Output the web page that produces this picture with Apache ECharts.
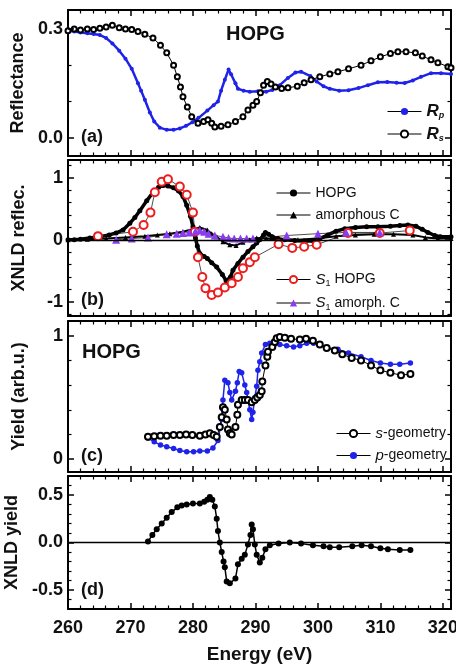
<!DOCTYPE html>
<html><head><meta charset="utf-8">
<script src="https://cdn.jsdelivr.net/npm/echarts@6/dist/echarts.min.js"></script>
<style>html,body{margin:0;padding:0;background:#fff}#c{width:456px;height:671px}</style>
</head><body><div id="c"></div>
<script>
// ---------- data ----------
const xMajor = [260, 270, 280, 290, 300, 310, 320];
const xMinor = [262,264,266,268,272,274,276,278,282,284,286,288,292,294,296,298,302,304,306,308,312,314,316,318];
const yLabelsA = [0.0, 0.3];
const yMinorA = [0.1, 0.2];
const yLabelsB = [-1, 0, 1];
const yMinorB = [-1.2,-0.8,-0.6,-0.4,-0.2,0.2,0.4,0.6,0.8,1.2];
const yLabelsC = [0, 1];
const yMinorC = [0.2, 0.4, 0.6, 0.8];
const yLabelsD = [-0.5, 0.0, 0.5];
const yMinorD = [-0.6,-0.4,-0.3,-0.2,-0.1,0.1,0.2,0.3,0.4,0.6];

const reflRp = [[260,0.295],[261,0.293],[262,0.29],[263.1,0.288],[264.1,0.286],[265.1,0.283],[266.1,0.275],[267.1,0.26],[268.2,0.24],[269.2,0.218],[270.2,0.19],[271.2,0.15],[271.7,0.13],[272.3,0.105],[273.1,0.07],[273.8,0.045],[274.7,0.028],[275.8,0.022],[276.9,0.022],[277.9,0.026],[278.9,0.033],[279.9,0.043],[280.9,0.055],[282.3,0.075],[283.3,0.09],[284.0,0.1],[284.5,0.13],[285.1,0.16],[285.7,0.188],[286.1,0.175],[286.8,0.15],[287.2,0.135],[288.1,0.13],[289.1,0.127],[290.4,0.128],[291.7,0.127],[292.7,0.132],[293.9,0.145],[295.2,0.165],[296.4,0.18],[297.3,0.182],[298.8,0.17],[299.8,0.155],[300.9,0.142],[301.9,0.135],[303.4,0.13],[304.9,0.131],[306.5,0.137],[308.0,0.145],[309.6,0.153],[311.1,0.154],[312.6,0.152],[313.9,0.151],[315.2,0.158],[316.5,0.168],[318.1,0.178],[319.7,0.178],[321.3,0.176]];
const reflRs = [[260,0.295],[261,0.3],[262,0.297],[263.1,0.3],[264.1,0.298],[265.1,0.302],[266.1,0.305],[267.1,0.31],[268.2,0.303],[269.2,0.3],[270.2,0.298],[271.2,0.293],[272.3,0.285],[273.6,0.275],[274.8,0.255],[275.8,0.234],[276.9,0.2],[277.5,0.168],[278.0,0.14],[278.4,0.113],[279.1,0.085],[279.8,0.058],[280.8,0.04],[281.7,0.045],[282.4,0.05],[283.0,0.04],[283.5,0.03],[284.5,0.032],[285.6,0.036],[286.8,0.045],[288.0,0.058],[288.8,0.077],[289.6,0.09],[290.2,0.1],[290.8,0.124],[291.3,0.145],[291.9,0.155],[292.5,0.148],[293.2,0.14],[294.2,0.136],[295.2,0.138],[296.7,0.142],[297.8,0.152],[298.9,0.16],[300.3,0.168],[301.9,0.176],[303.2,0.182],[304.9,0.19],[306.9,0.2],[308.5,0.212],[310.0,0.223],[311.6,0.232],[312.8,0.237],[314.1,0.237],[315.6,0.234],[316.7,0.225],[318.1,0.215],[319.2,0.207],[320.8,0.196],[321.3,0.193]];

const xnldHOPG = [[260,0],[261,0.0],[262,0.01],[263.5,0.03],[265.1,0.05],[266.6,0.08],[267.7,0.11],[268.8,0.16],[269.9,0.27],[270.7,0.36],[271.5,0.47],[272.6,0.63],[273.6,0.77],[274.5,0.85],[275.2,0.88],[276.0,0.87],[276.9,0.84],[277.7,0.79],[278.4,0.7],[279.0,0.56],[279.6,0.38],[280.0,0.21],[280.4,0.03],[280.7,-0.1],[281.1,-0.22],[281.8,-0.27],[282.3,-0.3],[283.0,-0.37],[283.8,-0.44],[284.7,-0.56],[285.3,-0.66],[285.6,-0.68],[286.0,-0.6],[286.4,-0.49],[287.2,-0.38],[288.0,-0.28],[288.8,-0.19],[289.6,-0.11],[290.2,-0.05],[290.7,0.0],[291.3,0.08],[291.6,0.12],[292.1,0.09],[292.7,0.05],[293.6,0.02],[294.7,0.0],[296.3,-0.01],[297.8,-0.02],[299.3,-0.02],[300.3,0.02],[301.6,0.08],[302.9,0.14],[304.3,0.18],[306.0,0.2],[307.8,0.21],[309.6,0.21],[311.6,0.22],[313.1,0.23],[314.4,0.24],[315.7,0.22],[316.7,0.17],[317.6,0.12],[318.7,0.07],[319.6,0.05],[321.3,0.05]];
const xnldAmorph = [[260,0],[263.1,0.01],[266.1,0.02],[269.2,0.04],[272.3,0.06],[274.3,0.08],[276.3,0.1],[278.4,0.13],[279.9,0.17],[281.1,0.2],[282.3,0.16],[283.0,0.1],[283.8,0.05],[284.8,-0.03],[285.9,-0.08],[286.9,-0.09],[288.0,-0.04],[289.1,0.0],[290.2,0.03],[291.7,0.02],[293.7,0.0],[296.8,0.0],[299.8,0.02],[302.9,0.06],[306.0,0.08],[309.0,0.09],[312.1,0.09],[315.2,0.08],[317.2,0.04],[319.2,0.02],[321.3,0.02]];
const s1HOPG = [[264.8,0.06],[270.4,0.13],[272.1,0.24],[273.2,0.44],[273.9,0.77],[275.0,0.94],[276.0,0.98],[277.9,0.86],[279.0,0.73],[280.0,0.44],[280.3,0.13],[280.8,-0.28],[281.5,-0.6],[282.0,-0.78],[283.0,-0.89],[284.0,-0.85],[285.1,-0.77],[286.2,-0.7],[287.2,-0.6],[288.0,-0.46],[289.1,-0.36],[289.9,-0.28],[293.7,-0.07],[295.9,-0.13],[297.8,-0.11],[299.8,-0.08],[304.8,0.11],[309.9,0.11],[314.7,0.15]];
const s1Amorph = [[267.7,0.0],[270.2,0.02],[272.8,0.04],[275.8,0.09],[277.4,0.1],[278.4,0.11],[279.4,0.12],[280.4,0.14],[281.1,0.15],[281.8,0.13],[282.5,0.1],[283.5,0.07],[284.8,0.05],[285.7,0.03],[286.6,0.02],[287.6,0.02],[288.6,0.02],[289.6,0.02],[295.0,0.07],[300.0,0.1],[304.5,0.12],[309.9,0.12]];

const yieldS = [[272.8,0.18],[273.8,0.185],[274.8,0.19],[275.8,0.19],[276.9,0.195],[277.9,0.195],[278.9,0.2],[279.9,0.195],[281.1,0.19],[282.0,0.2],[282.7,0.21],[283.3,0.195],[283.8,0.18],[284.3,0.26],[284.6,0.34],[284.8,0.42],[285.1,0.4],[285.4,0.32],[285.6,0.24],[285.9,0.21],[286.2,0.2],[286.8,0.26],[287.1,0.36],[287.2,0.44],[287.8,0.48],[288.3,0.48],[288.8,0.48],[289.4,0.46],[289.9,0.48],[290.3,0.5],[290.7,0.52],[291.0,0.55],[291.1,0.63],[291.6,0.76],[291.9,0.83],[292.0,0.87],[292.7,0.91],[293.1,0.95],[293.4,0.98],[293.9,0.99],[294.7,0.985],[295.7,0.975],[297.1,0.97],[298.1,0.975],[299.2,0.96],[300.3,0.93],[301.4,0.9],[302.7,0.88],[303.9,0.85],[305.4,0.82],[306.9,0.8],[308.5,0.76],[310.0,0.72],[311.6,0.7],[313.3,0.68],[314.8,0.69]];
const yieldP = [[272.8,0.17],[273.8,0.14],[274.8,0.115],[275.8,0.1],[276.9,0.085],[277.9,0.07],[279.0,0.06],[280.1,0.06],[281.1,0.065],[282.3,0.065],[283.2,0.09],[284.0,0.15],[284.6,0.32],[284.8,0.48],[285.1,0.64],[285.6,0.62],[285.9,0.54],[286.2,0.48],[286.8,0.55],[287.1,0.62],[287.4,0.71],[287.8,0.7],[288.3,0.6],[288.6,0.54],[289.1,0.4],[289.4,0.32],[289.6,0.38],[289.9,0.5],[290.2,0.59],[290.4,0.72],[290.7,0.79],[291.0,0.86],[291.6,0.93],[292.3,0.94],[293.2,0.935],[293.9,0.93],[295.0,0.92],[296.1,0.91],[297.1,0.92],[298.2,0.94],[299.3,0.94],[300.3,0.93],[301.5,0.9],[303.2,0.89],[304.9,0.86],[306.9,0.83],[308.5,0.8],[310.0,0.78],[311.6,0.77],[313.1,0.77],[314.8,0.78]];

const xnldYield = [[272.8,0.01],[273.5,0.08],[274.2,0.14],[275.0,0.2],[275.8,0.26],[276.6,0.32],[277.5,0.37],[278.2,0.39],[279.0,0.4],[280.0,0.41],[281.1,0.41],[281.8,0.43],[282.3,0.45],[282.7,0.48],[283.1,0.45],[283.5,0.38],[283.8,0.25],[284.0,0.12],[284.3,0.0],[284.6,-0.1],[284.9,-0.2],[285.1,-0.26],[285.4,-0.41],[285.9,-0.43],[286.8,-0.38],[287.2,-0.23],[287.8,-0.17],[288.3,-0.13],[288.8,-0.02],[289.2,0.08],[289.4,0.19],[289.6,0.14],[289.9,-0.02],[290.2,-0.13],[290.7,-0.21],[291.1,-0.16],[291.6,-0.07],[292.3,-0.03],[293.7,-0.01],[295.5,0.0],[297.3,-0.01],[299.2,-0.03],[300.9,-0.04],[301.9,-0.05],[303.4,-0.05],[305.5,-0.04],[307.0,-0.03],[308.5,-0.04],[310.0,-0.06],[311.2,-0.07],[313.1,-0.08],[314.8,-0.08]];

// ---------- layout ----------
const FONT = 'Liberation Sans, Arial, sans-serif';
const L = 68, W = 383, XMIN = 260, XMAX = 321.3;
const MAJ = 6, MIN = 3.5;
const panels = [
  {top:10,  h:146, min:-0.05, max:0.352, major:yLabelsA, minor:yMinorA, fmt:v=>v.toFixed(1), name:'Reflectance', zero:false},
  {top:160, h:156, min:-1.23, max:1.29, major:yLabelsB, minor:yMinorB, fmt:v=>String(v), name:'XNLD reflec.', zero:true},
  {top:321, h:151, min:-0.105, max:1.12, major:yLabelsC, minor:yMinorC, fmt:v=>String(v), name:'Yield (arb.u.)', zero:false},
  {top:476, h:133, min:-0.70, max:0.70, major:yLabelsD, minor:yMinorD, fmt:v=>v.toFixed(1), name:'XNLD yield', zero:true}
];
const grid = [], xAxis = [], yAxis = [];
const mkLine = () => ({show:true, onZero:false, lineStyle:{color:'#000', width:2}});
const labFont = () => ({fontSize:18, fontWeight:'bold', fontFamily:FONT, color:'#111'});
panels.forEach((p, gi) => {
  grid.push({left:L, top:p.top, width:W, height:p.h, containLabel:false, outerBoundsMode:'none'});
  const last = gi === panels.length - 1;
  ['bottom','top'].forEach(pos => {
    xAxis.push({type:'value', gridIndex:gi, position:pos, min:XMIN, max:XMAX, interval:10,
      axisLine:mkLine(), splitLine:{show:false}, axisTick:{show:false}, minorTick:{show:false},
      axisLabel:Object.assign({show: last && pos==='bottom', margin:10}, labFont()),
      name: (last && pos==='bottom') ? 'Energy (eV)' : '', nameLocation:'middle', nameGap:36,
      nameTextStyle:{fontSize:19, fontWeight:'bold', fontFamily:FONT, color:'#111'}
    });
  });
  ['left','right'].forEach(pos => {
    yAxis.push({type:'value', gridIndex:gi, position:pos, min:p.min, max:p.max,
      axisLine:mkLine(), splitLine:{show:false}, axisTick:{show:false},
      axisLabel:Object.assign({show: pos==='left', customValues:p.major, formatter:p.fmt, margin:5}, labFont()),
      name: pos==='left' ? p.name : '', nameLocation:'middle', nameGap:40,
      nameTextStyle:{fontSize:18, fontWeight:'bold', fontFamily:FONT, color:'#111'}
    });
  });
});

// tick marks on all four sides, as markLine segments placed in data coordinates
function tickMarks(p) {
  const d = [];
  const dyPerPx = (p.max - p.min) / p.h, dxPerPx = (XMAX - XMIN) / W;
  const addX = (v, len, w) => {
    d.push([{coord:[v, p.min], lineStyle:{width:w}}, {coord:[v, p.min + len*dyPerPx]}]);
    d.push([{coord:[v, p.max], lineStyle:{width:w}}, {coord:[v, p.max - len*dyPerPx]}]);
  };
  const addY = (v, len, w) => {
    d.push([{coord:[XMIN, v], lineStyle:{width:w}}, {coord:[XMIN + len*dxPerPx, v]}]);
    d.push([{coord:[XMAX, v], lineStyle:{width:w}}, {coord:[XMAX - len*dxPerPx, v]}]);
  };
  xMajor.forEach(v => addX(v, MAJ, 1.5));
  xMinor.forEach(v => addX(v, MIN, 1.2));
  p.major.forEach(v => addY(v, MAJ, 1.5));
  p.minor.forEach(v => addY(v, MIN, 1.2));
  if (p.zero) d.push({yAxis:0, lineStyle:{width:1.3}});
  return {silent:true, symbol:['none','none'], label:{show:false}, animation:false,
    emphasis:{disabled:true}, lineStyle:{color:'#000', width:1.5, type:'solid'}, data:d};
}

function ser(name, data, gi, o) {
  return Object.assign({type:'line', name, data, xAxisIndex:gi*2, yAxisIndex:gi*2, showSymbol:true}, o);
}

const BLUE = '#1f22e8';
const series = [
  ser('Rp', reflRp, 0, {symbol:'circle', symbolSize:4, itemStyle:{color:BLUE}, lineStyle:{color:BLUE, width:2.5}}),
  ser('Rs', reflRs, 0, {symbol:'emptyCircle', symbolSize:5, itemStyle:{color:'#000', borderWidth:1.2}, lineStyle:{color:'#000', width:1}, markLine:tickMarks(panels[0])}),
  ser('HOPG', xnldHOPG, 1, {symbol:'circle', symbolSize:5, itemStyle:{color:'#000'}, lineStyle:{color:'#000', width:3.5}, markLine:tickMarks(panels[1])}),
  ser('amorphous C', xnldAmorph, 1, {symbol:'triangle', symbolSize:5, itemStyle:{color:'#000'}, lineStyle:{color:'#000', width:2}}),
  ser('S1 HOPG', s1HOPG, 1, {symbol:'emptyCircle', symbolSize:8, itemStyle:{color:'#ee1c1c', borderWidth:1.8}, lineStyle:{color:'#222', width:0.8}}),
  ser('S1 amorph C', s1Amorph, 1, {symbol:'triangle', symbolSize:8, itemStyle:{color:'#8a3cf0'}, lineStyle:{color:'#222', width:0.8}}),
  ser('p-geometry', yieldP, 2, {symbol:'circle', symbolSize:5.5, itemStyle:{color:BLUE}, lineStyle:{color:BLUE, width:1.5}}),
  ser('s-geometry', yieldS, 2, {symbol:'emptyCircle', symbolSize:6, itemStyle:{color:'#000', borderWidth:1.3}, lineStyle:{color:'#000', width:1}, markLine:tickMarks(panels[2])}),
  ser('xnldYield', xnldYield, 3, {symbol:'circle', symbolSize:6, itemStyle:{color:'#000'}, lineStyle:{color:'#000', width:1.5}, markLine:tickMarks(panels[3])})
];

const legText = {fontSize:14, fontFamily:FONT, color:'#111',
  rich:{
    i:{fontSize:17, fontStyle:'italic', fontWeight:'bold', fontFamily:FONT, color:'#111'},
    si:{fontSize:15, fontStyle:'italic', fontFamily:FONT, color:'#111'},
    s:{fontSize:9, fontStyle:'italic', fontWeight:'bold', fontFamily:FONT, color:'#111', verticalAlign:'bottom', padding:[9,0,0,0]},
    n:{fontSize:9, fontFamily:FONT, color:'#111', padding:[9,0,0,0]},
    t:{fontSize:14, fontFamily:FONT, color:'#111'}
  }};
const legBase = {orient:'vertical', itemWidth:34, itemHeight:9, itemGap:6, textStyle:legText,
  lineStyle:{width:1, color:'#000'}, selectedMode:false};
const legend = [
  Object.assign({}, legBase, {data:['Rp','Rs'], left:382, top:98, itemGap:5,
    formatter:n => n==='Rp' ? '{i|R}{s|p}' : '{i|R}{s|s}'}),
  Object.assign({}, legBase, {data:['HOPG','amorphous C'], left:271, top:181, itemGap:8}),
  Object.assign({}, legBase, {data:['S1 HOPG','S1 amorph C'], left:271, top:267, itemGap:7,
    formatter:n => n==='S1 HOPG' ? '{si|S}{n|1}{t| HOPG}' : '{si|S}{n|1}{t| amorph. C}'}),
  Object.assign({}, legBase, {data:['s-geometry','p-geometry'], left:331, top:421, itemGap:7,
    formatter:n => n==='s-geometry' ? '{si|s}{t|-geometry}' : '{si|p}{t|-geometry}'})
];

const txt = (x, y, s, size) => ({type:'text', left:x, top:y, silent:true,
  style:{text:s, fontSize:size, fontWeight:'bold', fontFamily:FONT, fill:'#111'}});
const graphic = [
  txt(226, 24, 'HOPG', 20),
  txt(82, 342, 'HOPG', 20),
  txt(81, 128, '(a)', 18),
  txt(81, 291, '(b)', 18),
  txt(81, 447, '(c)', 18),
  txt(81, 581, '(d)', 18)
];

const chart = echarts.init(document.getElementById('c'));
chart.setOption({animation:false, backgroundColor:'#fff', grid, xAxis, yAxis, series, legend, graphic});
</script></body></html>
